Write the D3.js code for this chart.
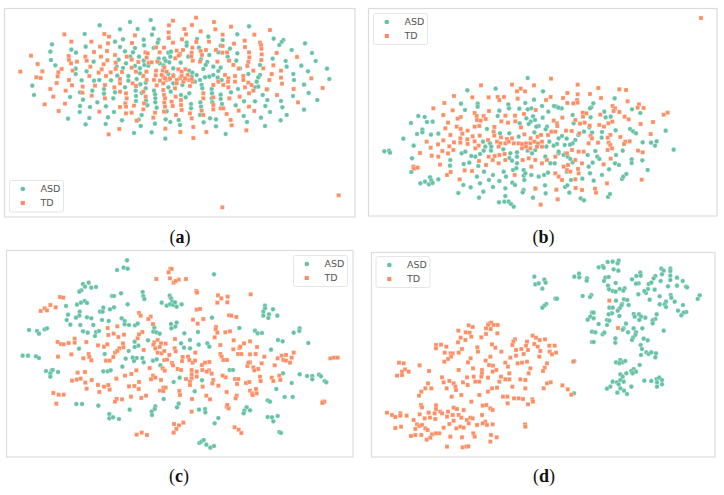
<!DOCTYPE html>
<html><head><meta charset="utf-8">
<script src="https://cdnjs.cloudflare.com/ajax/libs/d3/7.8.5/d3.min.js"></script>
<style>html,body{margin:0;padding:0;background:#fff}svg{display:block}</style>
</head><body><svg id="c" width="724" height="495"></svg>
<script>
const seriesNames=["ASD","TD"];
const captions=["a","b","c","d"];
const asdA=[[452,60],[390,66],[299,76],[360,88],[461,86],[413,87],[747,79],[254,102],[456,104],[712,103],[507,113],[625,110],[821,116],[850,120],[845,126],[838,135],[915,130],[156,133],[257,140],[345,125],[369,118],[431,119],[476,119],[473,128],[432,136],[560,128],[560,137],[591,117],[668,120],[662,137],[360,141],[405,144],[461,144],[214,149],[151,155],[228,158],[375,154],[399,157],[505,158],[597,143],[655,157],[690,146],[712,160],[875,150],[936,159],[153,180],[166,196],[281,185],[356,179],[391,170],[417,170],[431,182],[476,176],[493,176],[511,170],[513,155],[497,183],[542,188],[565,170],[628,165],[603,178],[622,186],[617,195],[683,170],[709,182],[818,176],[857,183],[860,200],[904,197],[947,183],[981,206],[227,206],[227,222],[260,214],[350,200],[378,190],[369,204],[352,227],[405,198],[420,205],[433,195],[445,197],[479,190],[490,196],[508,187],[520,205],[567,212],[577,218],[610,207],[640,200],[655,213],[662,203],[720,205],[745,222],[780,195],[780,225],[775,232],[924,214],[880,222],[882,240],[988,237],[245,241],[282,242],[298,240],[333,241],[385,228],[385,242],[410,237],[420,220],[437,248],[421,253],[505,222],[520,225],[575,230],[590,225],[600,240],[615,232],[628,230],[640,225],[653,233],[665,240],[605,255],[585,245],[520,250],[505,262],[547,255],[770,245],[765,262],[97,257],[912,254],[102,285],[240,277],[277,272],[312,267],[312,281],[345,277],[375,262],[407,272],[408,288],[437,265],[462,272],[465,283],[466,295],[425,279],[512,275],[543,285],[557,292],[568,280],[607,265],[635,267],[636,280],[662,284],[693,277],[714,267],[788,285],[775,260],[802,268],[926,279],[879,288],[952,300],[210,291],[249,299],[292,307],[340,295],[408,303],[438,302],[442,316],[466,307],[573,312],[573,325],[601,307],[603,320],[635,295],[637,307],[662,297],[666,312],[707,316],[732,304],[765,304],[802,300],[843,303],[847,322],[796,318],[240,318],[270,321],[318,319],[239,336],[342,336],[470,323],[500,334],[425,345],[810,336],[860,345],[912,329],[204,356],[268,354],[324,352],[366,361],[416,359],[497,358],[536,360],[600,345],[630,355],[648,358],[731,348],[783,353],[842,361],[257,373],[317,372],[422,378],[465,371],[511,366],[540,375],[611,367],[648,379],[741,366],[795,378],[402,399],[455,397],[496,416],[677,402]];
const tdA=[[588,53],[519,62],[507,76],[642,66],[576,75],[693,80],[553,87],[646,88],[602,94],[810,90],[193,103],[313,102],[327,110],[405,106],[506,97],[506,114],[558,103],[668,104],[763,104],[546,118],[589,126],[627,125],[214,125],[274,125],[324,130],[396,129],[519,128],[734,122],[702,131],[780,128],[783,135],[668,138],[735,141],[784,146],[492,143],[468,142],[530,152],[577,143],[549,150],[602,153],[618,150],[648,150],[747,157],[785,163],[830,159],[93,167],[206,168],[256,170],[282,156],[300,140],[321,153],[345,165],[436,157],[443,160],[479,157],[540,162],[575,158],[574,169],[606,165],[667,158],[681,157],[748,172],[784,180],[891,171],[207,180],[231,185],[260,182],[213,190],[113,192],[322,181],[303,170],[311,193],[347,188],[395,179],[380,170],[415,186],[440,173],[446,188],[455,187],[472,185],[526,175],[536,167],[578,182],[600,185],[652,185],[687,182],[745,186],[742,198],[820,196],[185,207],[61,215],[127,214],[175,217],[173,229],[109,232],[122,234],[218,212],[271,200],[305,208],[296,218],[332,217],[347,207],[395,203],[366,216],[318,228],[268,228],[360,237],[408,215],[430,228],[439,215],[468,212],[467,226],[488,212],[493,202],[535,208],[556,208],[545,215],[563,225],[558,238],[490,230],[500,240],[480,242],[540,235],[530,240],[550,245],[568,240],[578,245],[700,195],[716,206],[760,212],[790,205],[815,222],[843,212],[843,233],[846,251],[934,235],[968,264],[881,267],[207,240],[170,249],[216,256],[248,260],[285,257],[315,255],[360,250],[343,262],[398,250],[408,258],[440,240],[462,240],[470,256],[490,250],[508,238],[530,250],[675,225],[685,235],[705,228],[730,228],[684,245],[705,245],[730,240],[745,248],[655,245],[640,255],[670,255],[685,262],[735,262],[755,255],[808,240],[151,267],[197,272],[160,290],[247,278],[275,287],[315,295],[360,275],[378,280],[380,295],[430,275],[437,290],[490,270],[492,285],[495,295],[525,265],[527,290],[570,258],[610,280],[610,295],[640,292],[688,295],[719,290],[747,280],[760,272],[800,268],[831,285],[894,307],[134,313],[195,311],[176,333],[298,335],[360,321],[376,310],[378,320],[402,317],[430,328],[432,310],[465,338],[460,353],[493,308],[495,320],[515,305],[518,318],[492,335],[528,345],[543,300],[543,315],[545,330],[570,340],[575,355],[605,332],[610,345],[640,315],[640,328],[662,325],[670,325],[680,342],[692,360],[716,332],[747,320],[763,333],[378,340],[395,338],[410,362],[358,387],[326,403],[496,386],[541,396],[580,381],[580,414],[619,396],[695,376],[739,391],[1016,586],[667,622],[485,225],[495,235],[510,235],[520,228],[545,228],[555,235],[575,237],[500,215]];
const asdB=[[497,234],[316,271],[401,266],[543,274],[297,311],[347,311],[347,320],[309,330],[439,313],[441,325],[490,309],[516,299],[758,295],[169,348],[188,351],[147,369],[195,366],[212,365],[124,416],[181,389],[181,397],[165,402],[207,404],[229,401],[155,437],[67,454],[81,452],[84,458],[150,475],[148,516],[175,550],[189,545],[204,532],[208,541],[201,553],[212,549],[229,538],[289,579],[304,555],[326,562],[351,593],[364,575],[354,550],[393,561],[381,540],[411,607],[427,605],[440,605],[447,612],[455,620],[430,588],[430,565],[451,548],[459,555],[485,570],[482,577],[513,593],[520,565],[551,580],[549,556],[622,578],[609,561],[616,556],[656,595],[666,601],[738,591],[744,582],[780,537],[784,530],[793,522],[857,510],[809,478],[809,489],[841,481],[879,437],[867,428],[884,424],[842,427],[935,449],[911,392],[804,387],[813,394],[822,400],[761,391],[719,413],[720,396],[690,398],[666,395],[649,405],[635,370],[632,345],[583,320],[576,318],[599,325],[589,323],[540,318],[508,325],[497,328],[472,326],[559,335],[407,348],[412,332],[493,355],[513,349],[542,353],[519,360],[506,365],[500,372],[530,378],[523,380],[555,380],[551,388],[473,370],[375,387],[414,400],[442,400],[470,410],[517,397],[590,415],[600,408],[614,416],[640,420],[632,430],[624,434],[608,435],[585,432],[562,425],[553,440],[575,437],[610,460],[590,460],[520,450],[497,452],[465,457],[465,470],[445,460],[442,474],[424,448],[384,430],[388,440],[387,452],[370,440],[365,452],[363,425],[354,462],[340,470],[328,468],[322,488],[305,492],[299,460],[310,455],[349,498],[265,480],[264,497],[366,515],[345,530],[393,525],[412,543],[432,530],[425,515],[453,510],[465,490],[463,505],[485,510],[485,527],[487,540],[508,525],[530,530],[546,525],[558,518],[565,490],[590,455],[605,465],[617,470],[625,477],[632,487],[677,465],[700,453],[706,470],[712,477],[762,465],[782,452],[759,490],[771,495],[741,508],[680,500],[692,488],[684,520],[720,525],[695,542],[661,536],[627,540],[614,515],[682,382],[694,310],[688,322],[684,325],[727,335],[731,352],[746,350],[686,352],[810,328],[835,339],[490,520],[450,482],[510,460],[550,470],[578,490]];
const tdB=[[1017,54],[567,236],[450,254],[516,256],[357,256],[647,254],[709,264],[772,268],[792,270],[476,266],[489,274],[465,274],[616,279],[647,283],[684,282],[276,288],[331,292],[380,292],[407,291],[412,300],[426,291],[467,296],[566,291],[552,300],[603,294],[717,294],[247,309],[616,309],[634,310],[645,300],[647,308],[797,304],[831,313],[214,325],[272,331],[381,333],[486,342],[338,339],[344,348],[365,348],[430,347],[459,347],[521,330],[244,345],[296,351],[287,356],[371,357],[345,360],[356,362],[662,338],[673,340],[715,344],[752,318],[759,325],[772,336],[755,333],[827,323],[845,324],[788,350],[800,358],[917,338],[905,344],[873,366],[836,372],[866,402],[258,368],[250,385],[284,380],[296,387],[317,392],[352,378],[338,380],[397,381],[418,364],[438,368],[460,364],[477,382],[575,362],[601,353],[585,370],[640,360],[663,350],[668,368],[654,371],[683,377],[712,375],[739,370],[751,365],[726,380],[265,405],[332,409],[301,401],[353,407],[395,395],[397,407],[417,412],[435,417],[450,415],[487,403],[506,415],[527,410],[537,405],[558,405],[568,395],[586,378],[580,395],[612,392],[629,393],[652,400],[686,408],[745,405],[775,411],[194,425],[228,433],[244,421],[262,439],[276,427],[295,415],[295,428],[316,418],[317,432],[338,424],[350,437],[206,443],[241,453],[258,460],[274,450],[209,467],[229,470],[174,459],[234,494],[154,500],[156,506],[167,503],[255,525],[266,516],[308,511],[330,513],[293,538],[340,445],[378,420],[405,425],[415,430],[410,440],[430,430],[440,425],[455,430],[470,430],[480,432],[492,430],[505,430],[517,425],[528,430],[540,425],[480,445],[492,440],[505,445],[525,440],[540,440],[412,465],[398,468],[392,480],[372,495],[410,490],[428,462],[430,480],[482,480],[500,475],[520,480],[508,500],[540,490],[555,480],[580,470],[618,495],[605,500],[615,510],[580,520],[590,530],[600,540],[625,515],[648,507],[650,520],[640,538],[615,460],[630,450],[650,455],[665,455],[640,480],[660,490],[680,430],[690,415],[708,428],[737,413],[740,428],[745,435],[737,450],[750,445],[725,493],[746,476],[790,425],[803,424],[786,432],[828,452],[842,457],[839,539],[735,550],[699,566],[702,578],[660,570],[641,564],[583,569],[587,598],[536,614],[520,566],[458,525],[351,483],[380,470]];
const asdC=[[381,46],[351,75],[371,68],[383,71],[642,88],[249,117],[266,113],[255,125],[274,128],[288,126],[244,136],[238,140],[336,153],[342,153],[363,145],[428,141],[430,153],[433,162],[509,152],[513,160],[517,170],[485,173],[500,182],[510,178],[520,180],[530,185],[545,178],[525,172],[198,183],[231,179],[243,173],[254,168],[261,174],[383,178],[310,188],[300,200],[308,200],[330,193],[342,187],[795,182],[795,190],[819,193],[790,200],[807,208],[790,212],[805,219],[832,212],[204,209],[239,200],[238,212],[228,218],[200,225],[211,239],[261,217],[274,220],[306,225],[326,228],[365,220],[374,228],[374,238],[387,240],[405,241],[413,236],[241,240],[280,240],[636,218],[530,233],[513,237],[526,245],[514,250],[463,248],[460,260],[469,262],[479,266],[553,265],[594,261],[718,249],[87,255],[111,258],[117,266],[134,253],[141,250],[249,259],[263,263],[288,261],[297,258],[285,273],[765,257],[773,265],[786,264],[881,263],[899,250],[898,258],[444,286],[404,290],[415,302],[404,306],[543,295],[552,308],[570,285],[570,310],[596,299],[622,295],[628,305],[834,285],[848,289],[813,314],[925,294],[237,311],[314,327],[386,318],[68,332],[84,332],[108,334],[117,339],[377,341],[398,338],[410,339],[402,348],[427,339],[431,352],[459,347],[470,343],[481,361],[367,365],[138,378],[155,376],[158,375],[151,385],[151,395],[174,381],[310,379],[323,379],[332,376],[689,375],[699,375],[849,385],[899,388],[921,393],[937,393],[937,403],[957,389],[963,394],[974,408],[979,412],[875,414],[521,411],[539,398],[606,406],[584,439],[829,432],[854,456],[878,456],[491,462],[229,477],[246,477],[295,482],[389,494],[466,484],[464,492],[455,500],[456,510],[536,476],[531,487],[597,494],[615,492],[616,502],[740,487],[750,496],[733,497],[731,505],[803,466],[810,470],[328,507],[328,520],[339,517],[357,522],[803,516],[816,517],[833,513],[820,529],[655,519],[644,535],[838,561],[843,564],[598,594],[604,590],[611,585],[619,599],[631,608],[642,603]];
const tdC=[[511,71],[515,72],[506,82],[469,102],[510,100],[536,104],[558,102],[521,113],[527,108],[589,138],[591,143],[752,148],[654,151],[664,160],[683,155],[652,173],[682,172],[180,156],[190,158],[151,180],[167,187],[134,190],[122,198],[141,196],[590,194],[600,192],[417,204],[422,212],[452,215],[445,222],[459,237],[687,211],[694,212],[709,216],[579,224],[610,222],[593,236],[648,246],[647,253],[652,263],[690,259],[676,262],[644,277],[323,249],[352,244],[325,270],[341,266],[355,276],[372,269],[427,261],[417,268],[413,280],[473,285],[224,281],[173,291],[183,297],[191,298],[206,294],[224,293],[259,291],[294,301],[312,305],[322,298],[369,295],[370,307],[358,310],[345,323],[352,318],[463,292],[460,299],[483,295],[497,296],[479,306],[466,310],[525,282],[524,310],[431,315],[473,323],[485,325],[493,318],[508,330],[527,319],[214,328],[174,335],[266,327],[268,336],[250,340],[274,346],[318,347],[329,347],[340,336],[661,300],[661,327],[665,335],[670,345],[681,345],[701,286],[700,313],[718,309],[721,305],[732,295],[750,289],[771,306],[714,327],[724,327],[750,328],[767,327],[793,335],[881,323],[858,330],[845,332],[833,340],[850,345],[858,347],[875,338],[870,353],[991,340],[1002,338],[1013,338],[824,361],[586,323],[548,336],[564,335],[568,345],[546,348],[516,354],[493,345],[501,344],[578,353],[585,347],[606,360],[615,353],[628,351],[607,375],[627,376],[635,386],[620,380],[590,380],[575,375],[575,388],[533,372],[543,375],[519,361],[449,369],[488,370],[494,377],[409,376],[394,387],[375,392],[349,401],[459,392],[466,398],[453,403],[483,405],[233,383],[255,381],[216,407],[230,404],[242,401],[256,413],[275,405],[294,420],[312,425],[325,420],[329,434],[298,441],[260,431],[417,411],[387,424],[403,423],[416,432],[490,428],[497,428],[480,437],[490,438],[160,444],[176,449],[191,449],[169,476],[350,462],[366,463],[345,470],[393,455],[424,459],[438,452],[538,438],[540,450],[576,462],[619,452],[630,463],[680,441],[710,452],[707,460],[575,500],[680,485],[686,490],[682,480],[575,400],[570,410],[558,402],[570,420],[590,395],[640,405],[637,415],[655,422],[608,425],[677,397],[668,392],[705,402],[715,402],[711,417],[738,414],[748,411],[780,395],[782,408],[815,398],[820,408],[838,392],[841,405],[750,437],[756,445],[768,432],[770,445],[758,450],[742,363],[750,352],[745,353],[760,367],[775,372],[763,376],[785,355],[968,470],[973,470],[967,474],[522,537],[537,541],[550,533],[529,552],[521,563],[704,547],[716,554],[724,564],[410,569],[425,563],[441,570]];
const asdD=[[517,95],[547,104],[551,113],[520,118],[530,115],[541,131],[580,161],[585,161],[553,177],[547,182],[541,188],[637,95],[651,86],[652,97],[675,100],[674,107],[710,67],[722,63],[725,68],[737,51],[752,50],[770,47],[767,55],[755,73],[769,77],[730,98],[740,96],[726,108],[761,114],[738,122],[741,133],[752,138],[761,140],[773,132],[788,130],[784,137],[810,103],[823,93],[835,83],[836,92],[830,115],[822,116],[860,117],[880,93],[875,100],[868,113],[898,71],[905,77],[925,71],[925,78],[900,88],[925,92],[925,105],[945,98],[962,108],[972,125],[975,127],[945,122],[918,124],[896,108],[878,134],[858,132],[852,144],[847,138],[829,148],[863,164],[893,154],[926,150],[928,158],[912,170],[938,170],[893,178],[908,178],[912,186],[963,180],[948,197],[973,201],[965,203],[958,211],[1013,151],[1007,162],[662,153],[688,150],[684,156],[762,167],[786,163],[796,165],[780,177],[778,182],[773,190],[800,180],[742,188],[752,188],[767,197],[690,203],[695,203],[685,215],[677,224],[695,220],[750,205],[740,208],[735,225],[742,227],[735,240],[710,237],[772,213],[815,207],[818,215],[831,208],[837,215],[850,218],[832,225],[884,208],[880,222],[872,226],[872,235],[792,236],[785,250],[815,250],[841,250],[782,254],[798,262],[822,262],[820,270],[813,278],[810,285],[905,257],[690,260],[700,262],[722,268],[727,263],[690,291],[695,291],[760,280],[760,293],[845,281],[857,286],[836,300],[840,312],[853,322],[860,327],[837,330],[868,322],[882,325],[880,337],[637,348],[762,352],[775,345],[782,352],[790,348],[772,355],[833,360],[815,372],[808,378],[822,380],[812,385],[775,388],[793,385],[782,395],[847,407],[868,408],[884,402],[892,398],[885,412],[900,405],[900,418],[885,425],[752,410],[765,412],[775,405],[785,410],[770,418],[745,425],[735,431],[775,430],[808,425],[766,443],[786,437],[795,447],[636,445]];
const tdD=[[742,167],[768,249],[634,350],[382,235],[388,233],[378,240],[320,241],[332,246],[407,240],[395,240],[372,250],[386,252],[289,257],[311,262],[323,263],[406,265],[372,267],[296,278],[328,275],[358,277],[288,292],[310,285],[222,300],[237,299],[253,305],[222,310],[346,307],[348,320],[390,298],[400,308],[248,323],[266,325],[272,325],[290,323],[300,312],[267,335],[258,342],[247,350],[326,340],[318,352],[385,335],[418,320],[371,347],[381,360],[393,362],[459,283],[454,290],[451,300],[512,272],[522,278],[533,285],[549,283],[495,290],[517,297],[492,302],[527,305],[578,302],[562,302],[462,315],[478,312],[498,315],[445,338],[462,332],[485,327],[535,318],[563,320],[582,323],[532,335],[570,328],[555,355],[548,368],[467,355],[480,353],[495,350],[430,353],[438,365],[111,353],[125,355],[173,361],[201,378],[129,373],[140,380],[120,380],[105,392],[120,390],[290,375],[333,370],[360,375],[360,385],[403,375],[392,380],[442,385],[505,370],[500,385],[543,378],[240,397],[315,397],[335,395],[358,395],[378,398],[303,412],[262,408],[275,415],[245,412],[317,420],[340,410],[352,410],[417,395],[412,410],[430,403],[442,403],[475,403],[490,405],[555,415],[566,412],[545,430],[601,421],[617,433],[628,449],[198,415],[208,430],[190,430],[178,440],[171,452],[254,430],[280,425],[282,435],[298,450],[269,455],[378,440],[352,450],[390,430],[405,428],[451,425],[490,430],[423,455],[436,455],[437,475],[456,460],[470,460],[483,462],[511,463],[513,470],[498,478],[328,470],[362,482],[373,480],[385,490],[392,495],[177,480],[222,481],[222,492],[235,500],[180,487],[200,503],[218,505],[275,488],[285,492],[305,495],[258,500],[75,503],[90,510],[100,516],[115,505],[115,512],[134,512],[155,525],[173,508],[188,520],[204,518],[220,522],[240,505],[255,515],[272,510],[290,510],[298,518],[315,525],[325,518],[332,520],[360,510],[370,530],[345,540],[375,540],[392,538],[362,535],[100,549],[117,545],[165,538],[172,543],[180,540],[160,552],[190,550],[197,555],[245,548],[262,537],[275,527],[283,550],[295,545],[305,548],[320,535],[265,575],[334,565],[338,575],[232,565],[210,568],[222,565],[205,578],[194,584],[147,573],[160,570],[178,570],[300,577],[387,570],[404,577],[385,590],[255,605],[302,607],[313,605],[319,604],[489,538],[490,545]];

const colors=d3.scaleOrdinal(seriesNames,["#66c2a5","#fc8d62"]);
const panels=[
 {asd:asdA,td:tdA,ox:0,oy:0,f:[4.5,8.5,355,217],leg:[9.5,180.5,54,31.5],cap:[180,243]},
 {asd:asdB,td:tdB,ox:362,oy:0,f:[368.5,8.5,717,216],leg:[373.5,13.5,54,31],cap:[543.5,243]},
 {asd:asdC,td:tdC,ox:0,oy:245,f:[6.5,250.5,353,457],leg:[293.5,255.5,54,31],cap:[179,482]},
 {asd:asdD,td:tdD,ox:362,oy:245,f:[371.5,252.5,715,457],leg:[376,256.5,54,31],cap:[544,482]}
];
const svg=d3.select("#c");
const sym=d3.symbol().type(d3.symbolCircle).size(17);
const sq=d3.symbol().type(d3.symbolSquare).size(17);
panels.forEach((p,i)=>{
 const [l,t,r,b]=p.f;
 const g=svg.append("g");
 g.append("rect").attr("x",l).attr("y",t).attr("width",r-l).attr("height",b-t)
  .attr("fill","#fff").attr("stroke","#dcdcdc").attr("stroke-width",1.2);
 const x=d3.scaleLinear().domain([(l-p.ox)*3,(r-p.ox)*3]).range([l,r]);
 const y=d3.scaleLinear().domain([(t-p.oy)*3,(b-p.oy)*3]).range([t,b]);
 g.selectAll("path.asd").data(p.asd).join("path").attr("class","asd").attr("d",sym)
  .attr("transform",d=>`translate(${x(d[0])},${y(d[1])})`).attr("fill",colors("ASD")).attr("stroke","#fff").attr("stroke-width",.3);
 g.selectAll("path.td").data(p.td).join("path").attr("class","td").attr("d",sq)
  .attr("transform",d=>`translate(${x(d[0])},${y(d[1])})`).attr("fill",colors("TD")).attr("stroke","#fff").attr("stroke-width",.3);
 const [lx,ly,lw,lh]=p.leg;
 const lg=g.append("g");
 lg.append("rect").attr("x",lx).attr("y",ly).attr("width",lw).attr("height",lh).attr("rx",2)
  .attr("fill","#fff").attr("stroke","#e2e2e2").attr("stroke-width",.9);
 seriesNames.forEach((n,k)=>{
  const yy=ly+8.5+k*14;
  lg.append("path").attr("d",k?sq:sym).attr("transform",`translate(${lx+13.3},${yy})`).attr("fill",colors(n));
  lg.append("text").attr("x",lx+31).attr("y",yy+3.4).attr("font-family","DejaVu Sans").attr("font-size",9.5).attr("fill","#555").text(n);
 });
 const cap=g.append("text").attr("x",p.cap[0]).attr("y",p.cap[1]).attr("text-anchor","middle")
  .attr("font-family","Liberation Serif").attr("font-size",18).attr("fill","#111");
 cap.append("tspan").text("(");
 cap.append("tspan").attr("font-weight","bold").text(captions[i]);
 cap.append("tspan").text(")");
});
</script></body></html>
